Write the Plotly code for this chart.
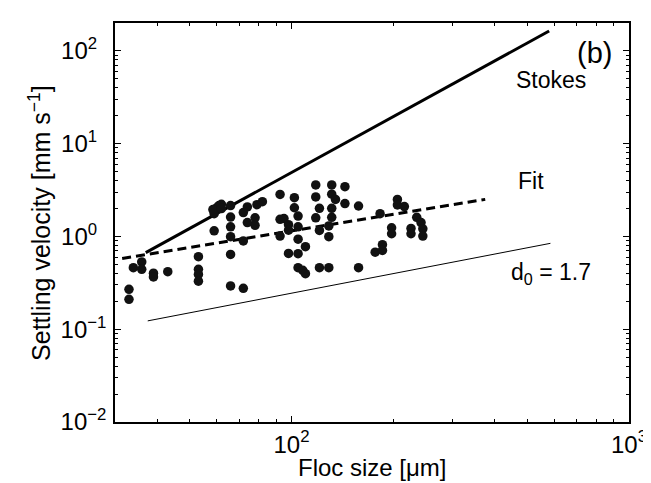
import plotly.graph_objects as go

# Floc size [um] and settling velocity [mm/s] of observed flocs
floc_size = [33, 33, 34, 36, 36, 39, 39, 43, 53, 53, 53, 53,
             59, 59, 60, 61, 62, 58.5, 62, 66, 66, 66, 66, 66, 66,
             72, 72, 72, 74, 74, 78, 78, 79, 82,
             92.5, 92.5, 95, 98, 98, 92.5, 98, 102, 102, 104.6, 104.6, 104.6, 104.6,
             110, 104.6, 108, 110,
             118, 118, 121, 118, 121, 121, 131.6, 131.6, 135, 131.6, 131.6, 129, 129, 129,
             144, 144, 158, 158,
             183, 206, 206, 216, 198, 198, 177, 186, 186, 226, 226, 235, 242, 245, 245]
settling_velocity = [0.269, 0.210, 0.461, 0.531, 0.442, 0.402, 0.366, 0.417, 0.606, 0.442, 0.390, 0.330,
                     1.15, 1.76, 2.04, 2.15, 2.22, 1.95, 2.0, 2.15, 1.62, 1.27, 0.995, 0.641, 0.293,
                     0.894, 0.276, 1.81, 2.08, 1.41, 1.59, 1.32, 2.20, 2.37,
                     2.84, 1.53, 1.56, 1.34, 1.17, 1.01, 0.657, 2.62, 2.04, 1.66, 1.27, 0.935, 0.653,
                     0.776, 0.461, 0.431, 0.397,
                     3.59, 2.67, 2.01, 1.59, 1.16, 0.461, 3.59, 2.86, 2.51, 2.01, 1.61, 1.30, 0.995, 0.461,
                     3.44, 2.26, 2.13, 0.461,
                     1.76, 2.51, 2.19, 2.10, 1.24, 1.07, 0.677, 0.816, 0.708, 1.22, 1.07, 1.61, 1.41, 1.21, 1.01]

stokes_x = [37, 580]
stokes_y = [0.67, 164]
fit_x = [31.5, 375]
fit_y = [0.58, 2.51]
d0_x = [37.5, 585]
d0_y = [0.123, 0.843]

x_tickvals = [100, 1000]
x_ticktext = ["10<sup>2</sup>", "10<sup>3</sup>"]
y_tickvals = [0.01, 0.1, 1, 10, 100]
y_ticktext = ["10<sup>−2</sup>", "10<sup>−1</sup>", "10<sup>0\u2007</sup>",
              "10<sup>1\u2007</sup>", "10<sup>2\u2007</sup>"]

FONT = "Liberation Sans, Arial, Helvetica, sans-serif"

fig = go.Figure()
fig.add_trace(go.Scatter(x=stokes_x, y=stokes_y, mode="lines",
                         line=dict(color="black", width=3), showlegend=False))
fig.add_trace(go.Scatter(x=fit_x, y=fit_y, mode="lines",
                         line=dict(color="black", width=3, dash="9px,5px"), showlegend=False))
fig.add_trace(go.Scatter(x=d0_x, y=d0_y, mode="lines",
                         line=dict(color="black", width=1), showlegend=False))
fig.add_trace(go.Scatter(x=floc_size, y=settling_velocity, mode="markers",
                         marker=dict(color="#111111", size=9.5), showlegend=False))

axis_common = dict(showline=True, linecolor="black", linewidth=1.5, mirror="ticks",
                   ticks="inside", ticklen=6, tickcolor="black", tickwidth=1,
                   showgrid=False, zeroline=False,
                   tickfont=dict(family=FONT, size=24, color="black"),
                   minor=dict(ticks="inside", ticklen=3, tickcolor="black", dtick="D1", showgrid=False))

fig.update_xaxes(type="log", range=[1.4771, 3], tickvals=x_tickvals, ticktext=x_ticktext,
                 ticklabelstandoff=0, **axis_common)
fig.update_yaxes(type="log", range=[-2, 2.30103], tickvals=y_tickvals, ticktext=y_ticktext,
                 ticklabelstandoff=2, **axis_common)

ann_font = dict(family=FONT, size=23, color="black")
fig.update_layout(
    width=651, height=483,
    margin=dict(l=107, r=28, t=15, b=69),
    paper_bgcolor="white", plot_bgcolor="white",
    annotations=[
        dict(x=2.8965, y=1.982, xref="x", yref="y", text="(b)", showarrow=False,
             font=dict(family=FONT, size=29, color="black")),
        dict(x=2.7675, y=1.691, xref="x", yref="y", text="Stokes", showarrow=False, font=ann_font),
        dict(x=2.709, y=0.6016, xref="x", yref="y", text="Fit", showarrow=False, font=ann_font),
        dict(x=2.7675, y=-0.40, xref="x", yref="y", text="d<sub>0</sub> = 1.7", showarrow=False, font=ann_font),
        dict(x=0.5, y=-0.115, xref="paper", yref="paper", text="Floc size [μm]", showarrow=False,
             font=dict(family=FONT, size=24, color="black"), xanchor="center", yanchor="middle"),
        dict(x=-0.147, y=0.5, xref="paper", yref="paper", text="Settling velocity [mm s<sup>−1</sup>]",
             showarrow=False, textangle=-90, xanchor="center", yanchor="middle",
             font=dict(family=FONT, size=25, color="black")),
    ],
)

fig.write_html("out.html")
